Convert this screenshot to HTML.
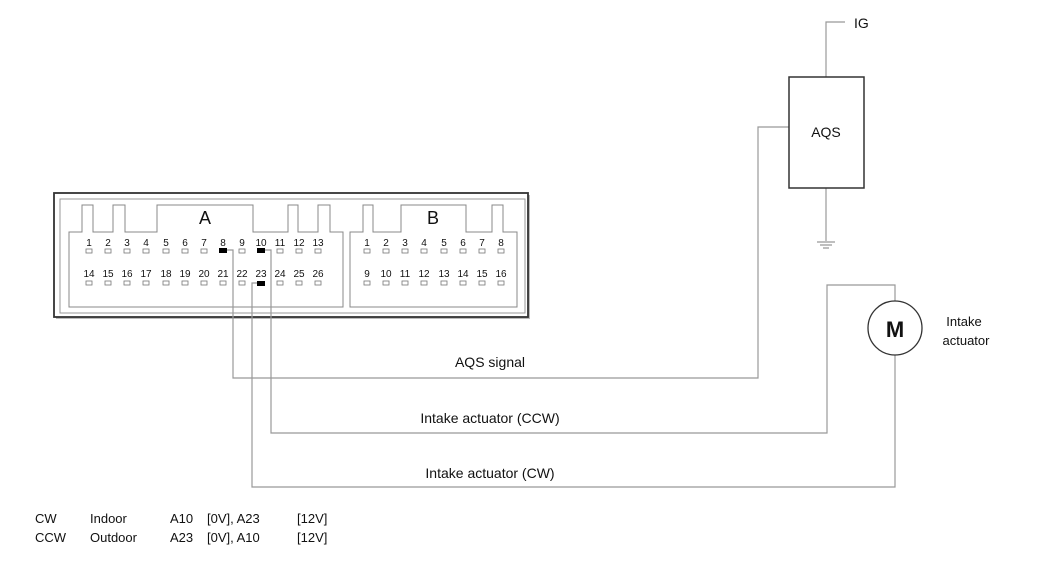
<!DOCTYPE html>
<html><head><style>
html,body{margin:0;padding:0;background:#fff;}
svg{display:block;}
text{font-family:"Liberation Sans",Arial,sans-serif;fill:#111;}
</style></head><body>
<svg width="1050" height="568" viewBox="0 0 1050 568" xmlns="http://www.w3.org/2000/svg">
<!-- connector outer frame -->
<rect x="56" y="195" width="474" height="124" fill="#bbb"/>
<rect x="54" y="193" width="474" height="124" fill="#fff" stroke="#333" stroke-width="1.8"/>
<rect x="60" y="199" width="465" height="114" fill="none" stroke="#999" stroke-width="1"/>
<!-- section A outline -->
<path d="M69 307 V232 H82 V205 H93 V232 H113 V205 H125 V232 H157 V205 H253 V232 H288 V205 H298 V232 H318 V205 H330 V232 H343 V307 Z" fill="none" stroke="#888" stroke-width="1"/>
<!-- section B outline -->
<path d="M350 307 V232 H363 V205 H373 V232 H401 V205 H466 V232 H492 V205 H503 V232 H517 V307 Z" fill="none" stroke="#888" stroke-width="1"/>
<text x="205" y="224" font-size="18" text-anchor="middle">A</text>
<text x="433" y="224" font-size="18" text-anchor="middle">B</text>
<g font-size="10" text-anchor="middle" id="pins">
<!-- A row 1 -->
<g>
<text x="89" y="246">1</text><text x="108" y="246">2</text><text x="127" y="246">3</text><text x="146" y="246">4</text><text x="166" y="246">5</text><text x="185" y="246">6</text><text x="204" y="246">7</text><text x="223" y="246">8</text><text x="242" y="246">9</text><text x="261" y="246">10</text><text x="280" y="246">11</text><text x="299" y="246">12</text><text x="318" y="246">13</text>
<text x="89" y="277">14</text><text x="108" y="277">15</text><text x="127" y="277">16</text><text x="146" y="277">17</text><text x="166" y="277">18</text><text x="185" y="277">19</text><text x="204" y="277">20</text><text x="223" y="277">21</text><text x="242" y="277">22</text><text x="261" y="277">23</text><text x="280" y="277">24</text><text x="299" y="277">25</text><text x="318" y="277">26</text>
<text x="367" y="246">1</text><text x="386" y="246">2</text><text x="405" y="246">3</text><text x="424" y="246">4</text><text x="444" y="246">5</text><text x="463" y="246">6</text><text x="482" y="246">7</text><text x="501" y="246">8</text>
<text x="367" y="277">9</text><text x="386" y="277">10</text><text x="405" y="277">11</text><text x="424" y="277">12</text><text x="444" y="277">13</text><text x="463" y="277">14</text><text x="482" y="277">15</text><text x="501" y="277">16</text>
</g>
</g>
<g fill="#fff" stroke="#777" stroke-width="0.8">
<rect x="86" y="249" width="6" height="4"/><rect x="105" y="249" width="6" height="4"/><rect x="124" y="249" width="6" height="4"/><rect x="143" y="249" width="6" height="4"/><rect x="163" y="249" width="6" height="4"/><rect x="182" y="249" width="6" height="4"/><rect x="201" y="249" width="6" height="4"/><rect x="239" y="249" width="6" height="4"/><rect x="277" y="249" width="6" height="4"/><rect x="296" y="249" width="6" height="4"/><rect x="315" y="249" width="6" height="4"/>
<rect x="86" y="281" width="6" height="4"/><rect x="105" y="281" width="6" height="4"/><rect x="124" y="281" width="6" height="4"/><rect x="143" y="281" width="6" height="4"/><rect x="163" y="281" width="6" height="4"/><rect x="182" y="281" width="6" height="4"/><rect x="201" y="281" width="6" height="4"/><rect x="220" y="281" width="6" height="4"/><rect x="239" y="281" width="6" height="4"/><rect x="277" y="281" width="6" height="4"/><rect x="296" y="281" width="6" height="4"/><rect x="315" y="281" width="6" height="4"/>
<rect x="364" y="249" width="6" height="4"/><rect x="383" y="249" width="6" height="4"/><rect x="402" y="249" width="6" height="4"/><rect x="421" y="249" width="6" height="4"/><rect x="441" y="249" width="6" height="4"/><rect x="460" y="249" width="6" height="4"/><rect x="479" y="249" width="6" height="4"/><rect x="498" y="249" width="6" height="4"/>
<rect x="364" y="281" width="6" height="4"/><rect x="383" y="281" width="6" height="4"/><rect x="402" y="281" width="6" height="4"/><rect x="421" y="281" width="6" height="4"/><rect x="441" y="281" width="6" height="4"/><rect x="460" y="281" width="6" height="4"/><rect x="479" y="281" width="6" height="4"/><rect x="498" y="281" width="6" height="4"/>
</g>
<g fill="#000">
<rect x="219" y="248" width="8" height="5"/><rect x="257" y="248" width="8" height="5"/><rect x="257" y="281" width="8" height="5"/>
</g>
<!-- wires -->
<g fill="none" stroke="#999" stroke-width="1.2">
<path d="M227 250 H233 V378 H758 V127 H790"/>
<path d="M265 250 H271 V433 H827 V285 H895 V301"/>
<path d="M257 283 H252 V487 H895 V355"/>
<path d="M826 77 V22 H845"/>
<path d="M826 188 V241"/>
<path d="M817 242 H835 M820 245 H832 M823 248 H829"/>
</g>
<!-- AQS -->
<rect x="789" y="77" width="75" height="111" fill="#fff" stroke="#333" stroke-width="1.5"/>
<text x="826" y="137" font-size="14" text-anchor="middle">AQS</text>
<text x="854" y="28" font-size="14">IG</text>
<!-- motor -->
<circle cx="895" cy="328" r="27" fill="#fff" stroke="#333" stroke-width="1.3"/>
<text x="895" y="337" font-size="22" font-weight="bold" text-anchor="middle">M</text>
<text x="964" y="326" font-size="13" text-anchor="middle">Intake</text>
<text x="966" y="345" font-size="13" text-anchor="middle">actuator</text>
<!-- wire labels -->
<text x="490" y="367" font-size="14" text-anchor="middle">AQS signal</text>
<text x="490" y="423" font-size="14" text-anchor="middle">Intake actuator (CCW)</text>
<text x="490" y="478" font-size="14" text-anchor="middle">Intake actuator (CW)</text>
<!-- legend -->
<g font-size="13">
<text x="35" y="523">CW</text><text x="90" y="523">Indoor</text><text x="170" y="523">A10</text><text x="207" y="523">[0V], A23</text><text x="297" y="523">[12V]</text>
<text x="35" y="542">CCW</text><text x="90" y="542">Outdoor</text><text x="170" y="542">A23</text><text x="207" y="542">[0V], A10</text><text x="297" y="542">[12V]</text>
</g>
</svg>
</body></html>
